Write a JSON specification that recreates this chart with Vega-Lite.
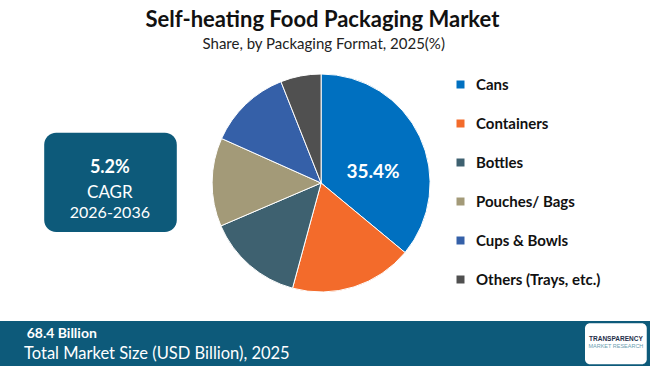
{
  "$schema": "https://vega.github.io/schema/vega-lite/v6.json",
  "width": 650,
  "height": 366,
  "autosize": {"type": "fit", "contains": "padding"},
  "padding": 0,
  "background": "#ffffff",
  "config": {"view": {"stroke": null}},
  "data": {"values": [
    {"format": "Cans", "share": 35.4, "order": 1},
    {"format": "Containers", "share": 17.9, "order": 2},
    {"format": "Bottles", "share": 14.1, "order": 3},
    {"format": "Pouches/ Bags", "share": 12.9, "order": 4},
    {"format": "Cups & Bowls", "share": 12.1, "order": 5},
    {"format": "Others (Trays, etc.)", "share": 5.9, "order": 6}
  ]},
  "layer": [
    {
      "data": {"values": [{"k": 1}]},
      "mark": {"type": "rect", "color": "#0d5a7a"},
      "encoding": {
        "x": {"datum": 0, "type": "quantitative", "scale": {"domain": [0, 100], "nice": false, "zero": false}, "axis": null},
        "x2": {"datum": 100},
        "y": {"datum": 87.7, "type": "quantitative", "scale": {"domain": [0, 100], "nice": false, "zero": false, "reverse": true}, "axis": null},
        "y2": {"datum": 100}
      }
    },
    {
      "data": {"values": [{"k": 1}]},
      "mark": {"type": "rect", "color": "#0d5a7a", "cornerRadius": 12},
      "encoding": {
        "x": {"datum": 6.8, "type": "quantitative"},
        "x2": {"datum": 27.2},
        "y": {"datum": 36.3, "type": "quantitative"},
        "y2": {"datum": 63.4}
      }
    },
    {
      "data": {"values": [{"k": 1}]},
      "mark": {"type": "rect", "color": "#ffffff", "cornerRadius": 5},
      "encoding": {
        "x": {"datum": 90.0, "type": "quantitative"},
        "x2": {"datum": 99.5},
        "y": {"datum": 88.3, "type": "quantitative"},
        "y2": {"datum": 99.5}
      }
    },
    {
      "data": {"values": [{"label": "TRANSPARENCY"}]},
      "mark": {"type": "text", "font": "Liberation Sans", "fontSize": 6.5, "fontWeight": "bold", "color": "#1f2f4a", "align": "center", "baseline": "middle"},
      "encoding": {
        "x": {"datum": 94.75, "type": "quantitative"},
        "y": {"datum": 92.6, "type": "quantitative"},
        "text": {"field": "label"}
      }
    },
    {
      "data": {"values": [{"label": "MARKET RESEARCH"}]},
      "mark": {"type": "text", "font": "Liberation Sans", "fontSize": 5.5, "color": "#6aa0b0", "align": "center", "baseline": "middle"},
      "encoding": {
        "x": {"datum": 94.75, "type": "quantitative"},
        "y": {"datum": 94.4, "type": "quantitative"},
        "text": {"field": "label"}
      }
    },
    {
      "data": {"values": [{"label": "Self-heating Food Packaging Market"}]},
      "mark": {"type": "text", "font": "Lato", "fontSize": 22, "fontWeight": "bold", "color": "#111111", "align": "center", "baseline": "middle"},
      "encoding": {
        "x": {"datum": 49.6, "type": "quantitative"},
        "y": {"datum": 5.6, "type": "quantitative"},
        "text": {"field": "label"}
      }
    },
    {
      "data": {"values": [{"label": "Share, by Packaging Format, 2025(%)"}]},
      "mark": {"type": "text", "font": "Lato", "fontSize": 15, "color": "#222222", "align": "center", "baseline": "middle"},
      "encoding": {
        "x": {"datum": 49.8, "type": "quantitative"},
        "y": {"datum": 12.0, "type": "quantitative"},
        "text": {"field": "label"}
      }
    },
    {
      "data": {"values": [{"label": "5.2%"}]},
      "mark": {"type": "text", "font": "Lato", "fontSize": 18, "fontWeight": "bold", "color": "#ffffff", "align": "center", "baseline": "middle"},
      "encoding": {
        "x": {"datum": 16.9, "type": "quantitative"},
        "y": {"datum": 46.0, "type": "quantitative"},
        "text": {"field": "label"}
      }
    },
    {
      "data": {"values": [{"label": "CAGR"}]},
      "mark": {"type": "text", "font": "Lato", "fontSize": 17, "color": "#ffffff", "align": "center", "baseline": "middle"},
      "encoding": {
        "x": {"datum": 16.9, "type": "quantitative"},
        "y": {"datum": 52.8, "type": "quantitative"},
        "text": {"field": "label"}
      }
    },
    {
      "data": {"values": [{"label": "2026-2036"}]},
      "mark": {"type": "text", "font": "Lato", "fontSize": 16, "color": "#ffffff", "align": "center", "baseline": "middle"},
      "encoding": {
        "x": {"datum": 16.9, "type": "quantitative"},
        "y": {"datum": 58.3, "type": "quantitative"},
        "text": {"field": "label"}
      }
    },
    {
      "data": {"values": [{"label": "68.4 Billion"}]},
      "mark": {"type": "text", "font": "Lato", "fontSize": 14, "fontWeight": "bold", "color": "#ffffff", "align": "left", "baseline": "middle"},
      "encoding": {
        "x": {"datum": 4.1, "type": "quantitative"},
        "y": {"datum": 91.3, "type": "quantitative"},
        "text": {"field": "label"}
      }
    },
    {
      "data": {"values": [{"label": "Total Market Size (USD Billion), 2025"}]},
      "mark": {"type": "text", "font": "Lato", "fontSize": 16.5, "color": "#ffffff", "align": "left", "baseline": "middle"},
      "encoding": {
        "x": {"datum": 3.7, "type": "quantitative"},
        "y": {"datum": 96.7, "type": "quantitative"},
        "text": {"field": "label"}
      }
    },
    {
      "mark": {"type": "arc", "radius": 109, "stroke": "#ffffff", "strokeWidth": 1},
      "encoding": {
        "x": {"datum": 49.4, "type": "quantitative"},
        "y": {"datum": 50.0, "type": "quantitative"},
        "theta": {"field": "share", "type": "quantitative", "stack": true},
        "order": {"field": "order", "type": "quantitative"},
        "color": {
          "field": "format",
          "type": "nominal",
          "sort": ["Cans", "Containers", "Bottles", "Pouches/ Bags", "Cups & Bowls", "Others (Trays, etc.)"],
          "scale": {
            "domain": ["Cans", "Containers", "Bottles", "Pouches/ Bags", "Cups & Bowls", "Others (Trays, etc.)"],
            "range": ["#0070c0", "#f36b2b", "#3e6170", "#a39a78", "#3560a8", "#505050"]
          },
          "legend": {
            "orient": "none",
            "legendX": 453,
            "legendY": 77,
            "title": null,
            "symbolType": "square",
            "symbolSize": 64,
            "symbolStrokeWidth": 0,
            "labelFont": "Lato",
            "labelFontSize": 15,
            "labelFontWeight": "bold",
            "labelColor": "#111111",
            "labelOffset": 8,
            "rowPadding": 23,
            "labelLimit": 300
          }
        }
      }
    },
    {
      "data": {"values": [{"label": "35.4%"}]},
      "mark": {"type": "text", "font": "Lato", "fontSize": 19, "fontWeight": "bold", "color": "#ffffff", "align": "center", "baseline": "middle"},
      "encoding": {
        "x": {"datum": 57.4, "type": "quantitative"},
        "y": {"datum": 47.0, "type": "quantitative"},
        "text": {"field": "label"}
      }
    }
  ]
}
